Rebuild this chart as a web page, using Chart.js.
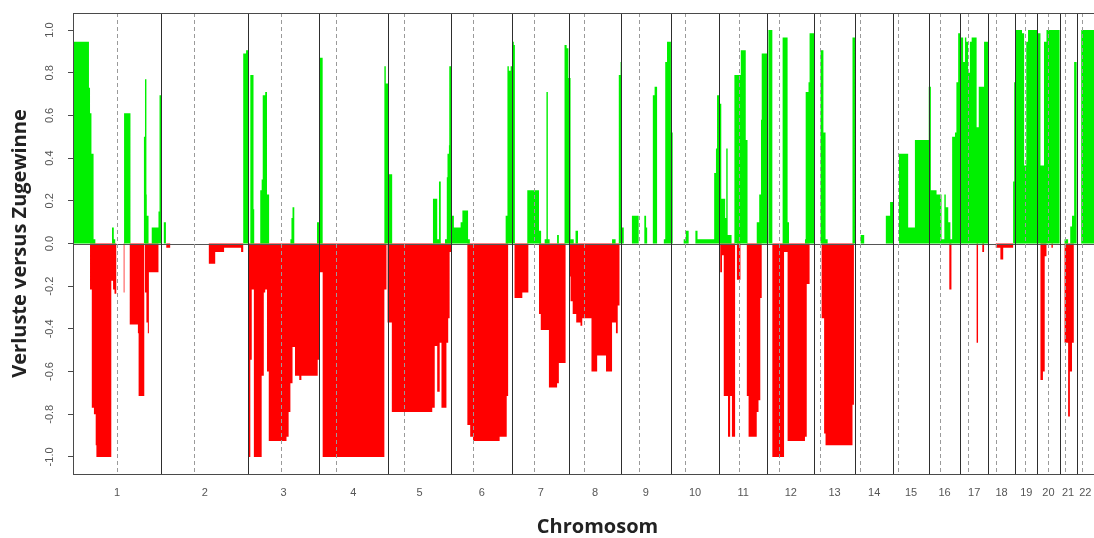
<!DOCTYPE html>
<html lang="de">
<head>
<meta charset="utf-8">
<title>Verluste versus Zugewinne</title>
<script src="https://cdn.jsdelivr.net/npm/chart.js@4.4.1/dist/chart.umd.min.js"></script>
<style>
    html, body { margin: 0; padding: 0; background: #fff; overflow: hidden; }
    canvas { display: block; }
</style>
</head>
<body>
<canvas id="cnvChart" width="1094" height="538"></canvas>
<script>
// Chromosomes: start of each one along the genome (Mb)
const chromNames = ['1', '2', '3', '4', '5', '6', '7', '8', '9', '10', '11',
    '12', '13', '14', '15', '16', '17', '18', '19', '20', '21', '22'];
const chromStart = [0, 249, 494, 694, 887, 1067, 1239, 1399, 1545, 1686, 1822,
    1958, 2090, 2205, 2313, 2413, 2502, 2580, 2657, 2719, 2782, 2830];
const genomeEnd = 2879;
const centromeres = [124, 342, 586, 743, 933, 1127, 1299, 1442, 1595, 1726, 1878,
    1990, 2106, 2220, 2326, 2446, 2524, 2602, 2684, 2750, 2796, 2844];

// Gains: breakpoint (Mb) and fraction that holds until the next breakpoint
const gainPos = [
    0, 45, 48, 52, 58, 63, 110, 115, 119, 144, 162, 200, 203, 207, 208, 213, 222, 241, 244,
    249, 256, 262, 480, 488,
    494, 500, 509, 511, 528, 532, 535, 542, 547, 553, 613, 616, 619, 624, 688,
    694, 704, 878, 882,
    890, 900, 1015, 1027, 1032, 1037, 1049, 1054, 1056, 1060, 1061,
    1067, 1074, 1093, 1098, 1114, 1119, 1220, 1225, 1229, 1234,
    1239, 1243, 1246, 1281, 1314, 1320, 1330, 1335, 1339, 1344, 1365, 1370, 1386, 1392, 1397,
    1403, 1412, 1417, 1424, 1520, 1530, 1539, 1544,
    1548, 1553, 1576, 1595, 1611, 1616, 1619, 1635, 1640, 1647, 1666, 1670, 1675,
    1686, 1691, 1722, 1728, 1736, 1755, 1761, 1808, 1813, 1816,
    1822, 1828, 1839, 1842, 1846, 1857, 1865, 1883, 1897, 1902, 1928, 1935, 1940, 1942,
    1958, 1961, 1972, 2001, 2015, 2019, 2064, 2066, 2074, 2077,
    2090, 2108, 2116, 2122, 2128, 2198,
    2205, 2221, 2231, 2292, 2304,
    2313, 2329, 2355, 2374,
    2413, 2419, 2435, 2449, 2457, 2461, 2468, 2474, 2479, 2487, 2491, 2496,
    2502, 2510, 2515, 2519, 2524, 2529, 2534, 2548, 2554, 2569,
    2580, 2651, 2654,
    2657, 2676, 2682, 2688, 2693,
    2719, 2728, 2738, 2745,
    2782, 2796, 2806, 2812, 2817, 2823,
    2830, 2843, 2879
];
const gainVal = [
    0.945, 0.73, 0.61, 0.42, 0.02, 0, 0.075, 0.02, 0, 0.61, 0, 0.5, 0.77, 0.23, 0.13, 0, 0.075, 0.15, 0.695,
    0, 0.1, 0, 0.89, 0.905,
    0, 0.79, 0.16, 0, 0.25, 0.3, 0.695, 0.71, 0.23, 0, 0.02, 0.12, 0.17, 0, 0.1,
    0.87, 0, 0.83, 0.75,
    0.325, 0, 0.21, 0.02, 0.29, 0, 0.02, 0.31, 0.42, 0.46, 0.83,
    0.13, 0.075, 0.1, 0.155, 0.02, 0, 0.13, 0.83, 0.81, 0.83,
    0.945, 0.93, 0, 0.25, 0.06, 0, 0.02, 0.71, 0.02, 0, 0.04, 0, 0.93, 0.915, 0.775,
    0.02, 0, 0.06, 0, 0.02, 0, 0.79, 0.85,
    0.075, 0, 0.13, 0, 0.13, 0.075, 0, 0.695, 0.735, 0, 0.02, 0.85, 0.945,
    0.52, 0, 0.02, 0.06, 0, 0.06, 0.02, 0.33, 0.445, 0.695,
    0.655, 0.21, 0.12, 0.445, 0.04, 0, 0.79, 0.905, 0.485, 0, 0.1, 0.23, 0.58, 0.89,
    0, 1.0, 0, 0.965, 0.1, 0, 0.02, 0.71, 0.755, 0.985,
    0, 0.905, 0.52, 0.02, 0, 0.965,
    0, 0.04, 0, 0.13, 0.195,
    0, 0.42, 0.075, 0.485,
    0.735, 0.25, 0.23, 0.02, 0.23, 0.17, 0.1, 0.02, 0.5, 0.52, 0.755, 0.985,
    0.965, 0.85, 0.965, 0.945, 0.8, 0.945, 0.965, 0.545, 0.735, 0.945,
    0, 0.29, 0.755,
    1.0, 0.985, 0.365, 0.945, 1.0,
    0.985, 0.365, 0.945, 1.0,
    0, 0.02, 0, 0.08, 0.13, 0.85,
    0, 1.0, 1.0
];

// Losses: breakpoint (Mb) and fraction that holds until the next breakpoint
const lossPos = [
    0, 48, 53, 59, 64, 66, 108, 113, 117, 122, 143, 145, 160, 183, 185, 201, 203, 207, 211, 214, 241,
    263, 274, 383, 401, 426, 474, 480,
    494, 500, 504, 510, 532, 538, 542, 547, 552, 602, 608, 613, 619, 626, 638, 644, 690,
    694, 704, 878, 884,
    887, 899, 1013, 1020, 1027, 1034, 1039, 1053, 1058, 1062,
    1067, 1112, 1120, 1128, 1203, 1223, 1227,
    1245, 1267, 1284, 1314, 1319, 1342, 1365, 1370, 1389,
    1399, 1403, 1409, 1419, 1431, 1436, 1462, 1478, 1503, 1520, 1531, 1536, 1541,
    1825, 1830, 1835, 1847, 1853, 1858, 1867, 1872, 1882, 1900, 1905, 1928, 1933, 1938, 1942,
    1972, 2005, 2015, 2064, 2069, 2077,
    2111, 2118, 2122, 2198, 2202,
    2471, 2477,
    2548, 2552, 2564, 2569,
    2602, 2615, 2623, 2651,
    2728, 2735, 2740, 2745, 2759, 2763,
    2796, 2806, 2811, 2817, 2822,
    2879
];
const lossVal = [
    0, -0.215, -0.77, -0.8, -0.945, -1.0, -0.175, -0.215, -0.235, 0, -0.23, 0, -0.38, -0.42, -0.715, 0, -0.23, -0.37, -0.42, -0.135, 0,
    -0.02, 0, -0.095, -0.04, -0.02, -0.04, 0,
    -1.0, -0.545, -0.215, -1.0, -0.62, -0.23, -0.215, -0.6, -0.925, -0.905, -0.79, -0.655, -0.485, -0.62, -0.64, -0.62, -0.545,
    -0.135, -1.0, -0.215, 0,
    -0.37, -0.79, -0.77, -0.48, -0.695, -0.465, -0.77, -0.465, -0.35, -0.04,
    0, -0.85, -0.905, -0.925, -0.905, -0.715, 0,
    -0.255, -0.23, 0, -0.33, -0.405, -0.675, -0.655, -0.56, 0,
    -0.155, -0.27, -0.33, -0.37, -0.385, -0.35, -0.6, -0.525, -0.6, -0.37, -0.42, -0.29, 0,
    -0.135, -0.055, -0.715, -0.905, -0.715, -0.905, 0, -0.17, 0, -0.715, -0.905, -0.79, -0.735, -0.255, 0,
    -1.0, -0.04, -0.925, -0.905, -0.19, 0,
    -0.35, -0.89, -0.945, -0.755, 0,
    -0.215, 0,
    -0.465, 0, -0.04, 0,
    -0.02, -0.075, -0.02, 0,
    -0.64, -0.6, -0.06, 0, -0.02, 0,
    -0.465, -0.81, -0.6, -0.465, 0,
    0
];

const yTicks = [-1.0, -0.8, -0.6, -0.4, -0.2, 0.0, 0.2, 0.4, 0.6, 0.8, 1.0];

const axisColor = '#4a4a4a';
const labelFont = { family: "'Liberation Sans', Arial, sans-serif", size: 11 };
const titleFont = { family: "'Open Sans', sans-serif", size: 20, weight: 'bold' };

// Build {x, y} points from the paired arrays
function toPoints(pos, val) {
    return pos.map((p, i) => ({ x: p, y: val[i] }));
}

// Chromosome separators, centromeres, zero line and box
const overlayPlugin = {
    id: 'overlay',
    afterDatasetsDraw(chart) {
        const { ctx, chartArea, scales } = chart;
        const xs = scales.x;
        const ys = scales.y;
        const top = chartArea.top;
        const bottom = chartArea.bottom;

        ctx.save();
        ctx.lineWidth = 1;

        // zero line
        const y0 = Math.round(ys.getPixelForValue(0)) + 0.5;
        ctx.strokeStyle = '#555';
        ctx.beginPath();
        ctx.moveTo(chartArea.left, y0);
        ctx.lineTo(chartArea.right, y0);
        ctx.stroke();

        // centromeres (dashed)
        ctx.strokeStyle = '#9a9a9a';
        ctx.setLineDash([4, 3]);
        centromeres.forEach(c => {
            const px = Math.round(xs.getPixelForValue(c)) + 0.5;
            ctx.beginPath();
            ctx.moveTo(px, top);
            ctx.lineTo(px, bottom);
            ctx.stroke();
        });
        ctx.setLineDash([]);

        // chromosome borders
        ctx.strokeStyle = '#2e2e2e';
        chromStart.slice(1).forEach(s => {
            const px = Math.round(xs.getPixelForValue(s)) + 0.5;
            ctx.beginPath();
            ctx.moveTo(px, top);
            ctx.lineTo(px, bottom);
            ctx.stroke();
        });

        // box
        ctx.strokeStyle = axisColor;
        ctx.strokeRect(chartArea.left + 0.5, top + 0.5,
            chartArea.right - chartArea.left, bottom - top);
        ctx.restore();
    },
    afterDraw(chart) {
        // x axis title
        const { ctx, chartArea } = chart;
        ctx.save();
        ctx.font = `${titleFont.weight} ${titleFont.size}px ${titleFont.family}`;
        ctx.fillStyle = '#222';
        ctx.textAlign = 'center';
        ctx.textBaseline = 'middle';
        ctx.fillText('Chromosom', (chartArea.left + chartArea.right) / 2 + 14, 527);
        ctx.restore();
    }
};

const ctx = document.getElementById('cnvChart').getContext('2d');
const cnvChart = new Chart(ctx, {
    type: 'line',
    data: {
        datasets: [
            {
                label: 'Zugewinne',
                data: toPoints(gainPos, gainVal),
                stepped: true,
                fill: 'origin',
                backgroundColor: '#00f000',
                borderWidth: 0,
                pointRadius: 0
            },
            {
                label: 'Verluste',
                data: toPoints(lossPos, lossVal),
                stepped: true,
                fill: 'origin',
                backgroundColor: '#ff0000',
                borderWidth: 0,
                pointRadius: 0
            }
        ]
    },
    options: {
        responsive: false,
        animation: false,
        devicePixelRatio: 1,
        layout: {
            autoPadding: false,
            // the plot runs slightly past the right edge of the picture
            padding: { left: 0, top: 13, right: -2, bottom: 0 }
        },
        plugins: {
            legend: { display: false },
            tooltip: { enabled: false }
        },
        scales: {
            x: {
                type: 'linear',
                min: 0,
                max: genomeEnd,
                grid: { display: false, drawTicks: true, tickLength: 12 },
                border: { display: true, color: axisColor, width: 1 },
                afterBuildTicks: (scale) => {
                    scale.ticks = chromStart.map((s, i) => ({
                        value: (s + (i + 1 < chromStart.length ? chromStart[i + 1] : genomeEnd)) / 2
                    }));
                },
                afterFit: (scale) => {
                    scale.height = 64;
                    scale.paddingLeft = 0;
                    scale.paddingRight = 0;
                },
                ticks: {
                    autoSkip: false,
                    maxRotation: 0,
                    minRotation: 0,
                    padding: 0,
                    color: '#555',
                    font: labelFont,
                    callback: (value, index) => chromNames[index]
                }
            },
            y: {
                min: -1.08,
                max: 1.08,
                grid: {
                    display: true,
                    drawOnChartArea: false,
                    drawTicks: true,
                    tickLength: 5,
                    color: axisColor
                },
                border: { display: true, color: axisColor, width: 1 },
                afterBuildTicks: (scale) => {
                    scale.ticks = yTicks.map(v => ({ value: v }));
                },
                afterFit: (scale) => {
                    scale.width = 73;
                    scale.paddingTop = 0;
                    scale.paddingBottom = 0;
                },
                title: {
                    display: true,
                    text: 'Verluste versus Zugewinne',
                    color: '#222',
                    font: titleFont,
                    padding: { top: 8, bottom: 0 }
                },
                ticks: {
                    autoSkip: false,
                    minRotation: 90,
                    maxRotation: 90,
                    crossAlign: 'center',
                    padding: 9,
                    color: '#555',
                    font: labelFont,
                    callback: (value) => value.toFixed(1)
                }
            }
        }
    },
    plugins: [overlayPlugin]
});
</script>
</body>
</html>
